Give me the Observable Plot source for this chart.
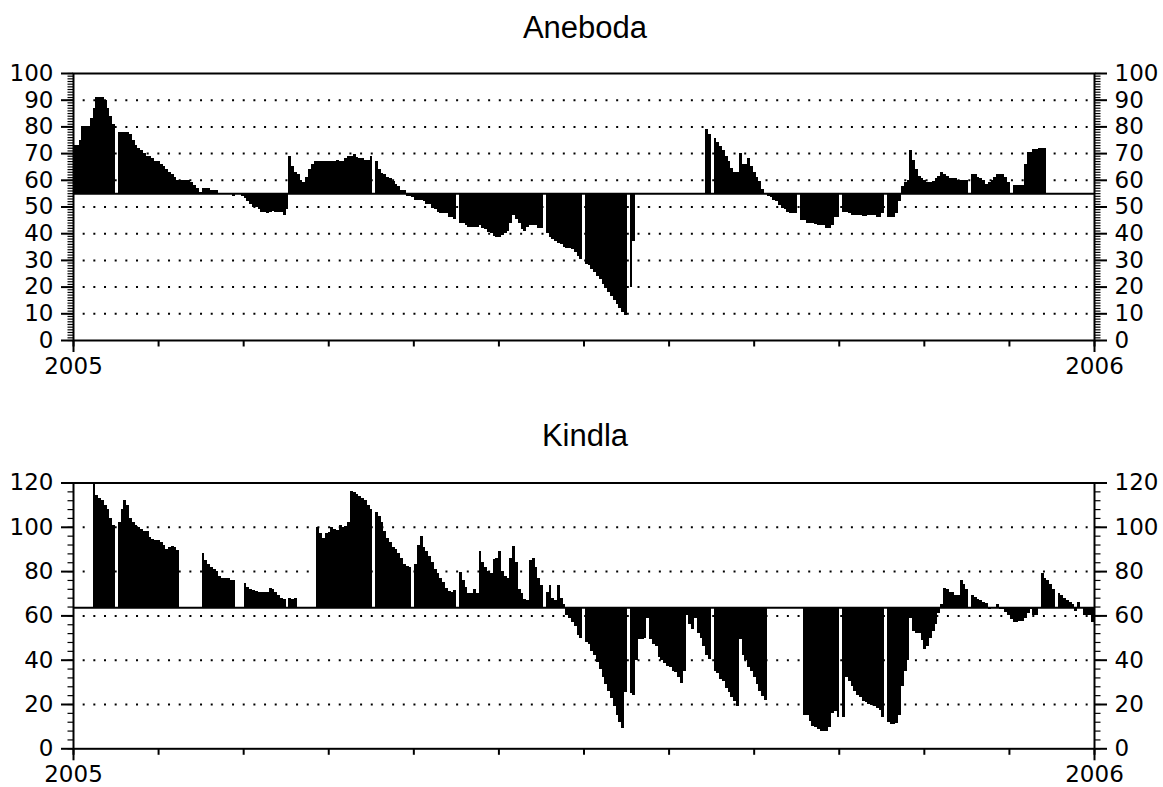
<!DOCTYPE html>
<html>
<head>
<meta charset="utf-8">
<script src="https://cdn.jsdelivr.net/npm/d3@7"></script>
<script src="https://cdn.jsdelivr.net/npm/@observablehq/plot@0.6"></script>
<style>
html, body { margin: 0; padding: 0; background: #fff; overflow: hidden; }
#wrap { position: relative; width: 1163px; height: 787px; }
.title { position: absolute; left: 73px; width: 1024px; text-align: center;
  font-family: "Liberation Sans", Arial, sans-serif; font-size: 31px; line-height: 31px; color: #000; }
.panel { position: absolute; left: 0; }
#wrap svg g[aria-label*="axis"] line, #wrap svg g[aria-label*="axis"] path { stroke-width: 2px; }
</style>
</head>
<body>
<div id="wrap">
  <div class="title" style="top:12px">Aneboda</div>
  <div class="panel" id="p1" style="top:50px"></div>
  <div class="title" style="top:420px">Kindla</div>
  <div class="panel" id="p2" style="top:458px"></div>
</div>
<script>
// Daily values for 2005 (day index 0..364); null = no data
const anebodaValues = [
  73,73,75,80,80,80,83,87,91,91,
  91,90,87,84,81,null,78,78,78,78,
  77,75,73,72,71,70,69,69,68,67,
  67,66,65,64,63,62,61,60,60,60,
  60,60,59,58,57,55.5,57,57,57,56,
  56,56,55,55,55,55,55,54,55,55,
  54,53,52,51,50,50,49,48,48,47.5,
  48,48.5,48,48,48,47,49,69,65,63,
  62,60,59,61,64,66,67,67,67,67,
  67,67,67,67,67.5,67,67,68,69,69,
  69.5,68.5,68,68,67.5,67.5,69,null,67,64,
  62.5,62,61,60.5,59.5,58.5,57.5,56,56,54,
  54,53.5,52.5,52.5,52.5,52,51,51,49.5,49,
  48,47.5,47.5,47.5,46,46,45.5,null,44,44,
  43,42.5,42.5,42.5,42.5,43,42,41.5,40.5,40,
  39,38.5,38.5,39.5,40,41,44,47,45.5,44,
  41.5,41,42.5,43,43,43,42,42,null,40,
  38.5,38,37,36.5,36,35,34.5,34.5,34,33,
  31.5,30.5,null,28.5,28,26.5,25.5,24,23,21,
  19.5,18,16.5,15,13.5,12,10.5,9.5,null,20,
  37,null,null,null,null,null,null,null,null,null,
  null,null,null,null,null,null,null,null,null,null,
  null,null,null,null,null,null,79,77,null,75.5,
  74,72.5,71,69,67,64.5,63,63,70,66,
  66,68,65,63,61,59.5,56.5,55,54,53.5,
  52.5,52,50.5,49.5,49,48,47.5,47.5,47.5,null,
  45,45,44,44,44,43.5,43,43,43,42,
  42,43,46,46,null,48,48,47.5,47,47,
  47,47,46.5,46.5,47,47,47,46,46,47.5,
  null,46,46,46,47.5,52,57.5,59,60,71,
  67.5,64,61.5,60.5,60,59,59,59.5,60.5,61.5,
  63,62,61.5,60.5,60.5,60.5,60,60,60,60,
  null,62,62,61,60.5,60,58.5,59,60,61,
  62,62,62,61,59,null,58,58,58,58,
  66,70.5,70.5,71.5,71.5,72,72,72,null,null,
  null,null,null,null,null,null,null,null,null,null,
  null,null,null,null,null
];
const kindlaValues = [
  null,null,null,null,null,null,null,120,114.5,113,
  112,110,108,104,101,null,102,108,112,110,
  104,102,101,100,99,98,98,95.5,94.5,94,
  94,93,92,90,91,91.5,91,89.5,null,null,
  null,null,null,null,null,null,88,85,83,82,
  81,80,78,77,77,77,76,76,null,null,
  null,74.5,73,72,71.5,71,70.5,70.5,70.5,70.5,
  72.5,72,70.5,69,68,67.5,null,68,67.5,68,
  null,null,null,null,null,null,null,100,97,95,
  97,97.5,100,99,98.5,101,100,100.5,102,116,
  115.5,115,114,113,112,110,108,null,106.5,105,
  102,98,95,93,91,90,88,86,83,82.5,
  82,null,83,92,96,91,89,87,84,81,
  79,77,75,72.5,71,70.5,71.5,null,79.5,76,
  73,70,70,72,70,89,84,82,80,79,
  85.5,86,89,80,78,77,86,91.5,84,72,
  70,67.5,67,85,86,82,77,73.5,null,70.5,
  73.5,68,67,73.5,68,65,60,59,57,55,
  51,50,null,48,47,44,42,39,36,32,
  29,26,22.5,19,15,12,9,25.5,null,25,
  24,40,49.5,49.5,50,59,49.5,47,46,41,
  40,38.5,37,36.5,35,34.5,32,29.5,35,60,
  56,54,59,52,50,46,42,40.5,null,35,
  34,31.5,30.5,27,25.5,23,21.5,19,49.5,42,
  40,36.5,35,32,29,26,23.5,22,null,null,
  null,null,null,null,null,null,null,null,null,null,
  null,15,15,12.5,10,9.5,8.5,8,8,8,
  9.5,16,17,14,null,14,32,30.5,28,26,
  24,23,21.5,21,20,19.5,19,18,17.5,14,
  null,12,11,11,11.5,15,28,35,40,59,
  53,52,52,49,45,46,50,53,56,61,
  65,72.5,72,70.5,70.5,69,69,76,74,72,
  null,69,68.5,67.5,67,66,65.5,63,64,64,
  65,63,63,61.5,60,58.5,57,57,57.5,57.5,
  59,61,63,60,60,64,79,77,76,74,
  72,64,70,69,68,67,66,65,62,66,
  64,60,60,60,57
];

const anebodaBaseline = 55;
const kindlaBaseline = 63.7;

const yearTicks = [0, 365];
const yearLabels = ["2005", "2006"];
const monthTicks = d3.range(0, 13).map(m => m * 365 / 12);

const anebodaMajor = [0,10,20,30,40,50,60,70,80,90,100];
const anebodaGrid = [10,20,30,40,50,60,70,80,90];
const anebodaMinor = d3.range(0, 101, 1);
const kindlaMajor = [0,20,40,60,80,100,120];
const kindlaGrid = [20,40,60,80,100];
const kindlaMinor = d3.range(0, 121, 4);

const tickLeft = { draw(ctx) { ctx.moveTo(-6, 0); ctx.lineTo(0, 0); } };
const tickRight = { draw(ctx) { ctx.moveTo(0, 0); ctx.lineTo(6, 0); } };
const tickDown = { draw(ctx) { ctx.moveTo(0, 0); ctx.lineTo(0, 6); } };

function panel({values, baseline, yDomain, yMajor, yGrid, yMinor, height, marginTop, marginBottom}) {
  const bars = values.map((v, i) => ({day: i, value: v})).filter(d => d.value != null);
  const xMax = yearTicks[1];
  return Plot.plot({
    width: 1163, height,
    marginLeft: 73, marginRight: 69, marginTop, marginBottom,
    style: {fontFamily: "'DejaVu Sans', sans-serif", fontSize: "23px", background: "transparent", color: "black"},
    x: {domain: [0, xMax], ticks: yearTicks, tickSize: 12, tickPadding: 5,
        tickFormat: d => yearLabels[yearTicks.indexOf(d)], label: null},
    y: {domain: yDomain, axis: "both", ticks: yMajor, tickSize: 12, tickPadding: 8,
        tickFormat: d => String(d), label: null},
    marks: [
      Plot.ruleY(yGrid, {stroke: "black", strokeWidth: 2, strokeDasharray: "2,8.67", strokeDashoffset: 1}),
      Plot.rect(bars, {x1: "day", x2: d => d.day + 1, y1: () => baseline, y2: "value",
        fill: "black", inset: 0, insetLeft: 0, insetRight: 0, shapeRendering: "crispEdges"}),
      Plot.ruleY([baseline], {stroke: "black", strokeWidth: 2}),
      Plot.frame({stroke: "black", strokeWidth: 2}),
      Plot.dot(yMinor, {x: () => 0, y: d => d, symbol: tickLeft, fill: "none", stroke: "black", strokeWidth: 1.2}),
      Plot.dot(yMinor, {x: () => xMax, y: d => d, symbol: tickRight, fill: "none", stroke: "black", strokeWidth: 1.2}),
      Plot.dot(monthTicks, {x: d => d, y: () => yDomain[0], symbol: tickDown, fill: "none", stroke: "black", strokeWidth: 2})
    ]
  });
}

document.getElementById("p1").append(panel({
  values: anebodaValues, baseline: anebodaBaseline, yDomain: [0, 100],
  yMajor: anebodaMajor, yGrid: anebodaGrid, yMinor: anebodaMinor,
  height: 340, marginTop: 23, marginBottom: 50
}));
document.getElementById("p2").append(panel({
  values: kindlaValues, baseline: kindlaBaseline, yDomain: [0, 120],
  yMajor: kindlaMajor, yGrid: kindlaGrid, yMinor: kindlaMinor,
  height: 329, marginTop: 24.5, marginBottom: 38.7
}));
</script>
</body>
</html>
